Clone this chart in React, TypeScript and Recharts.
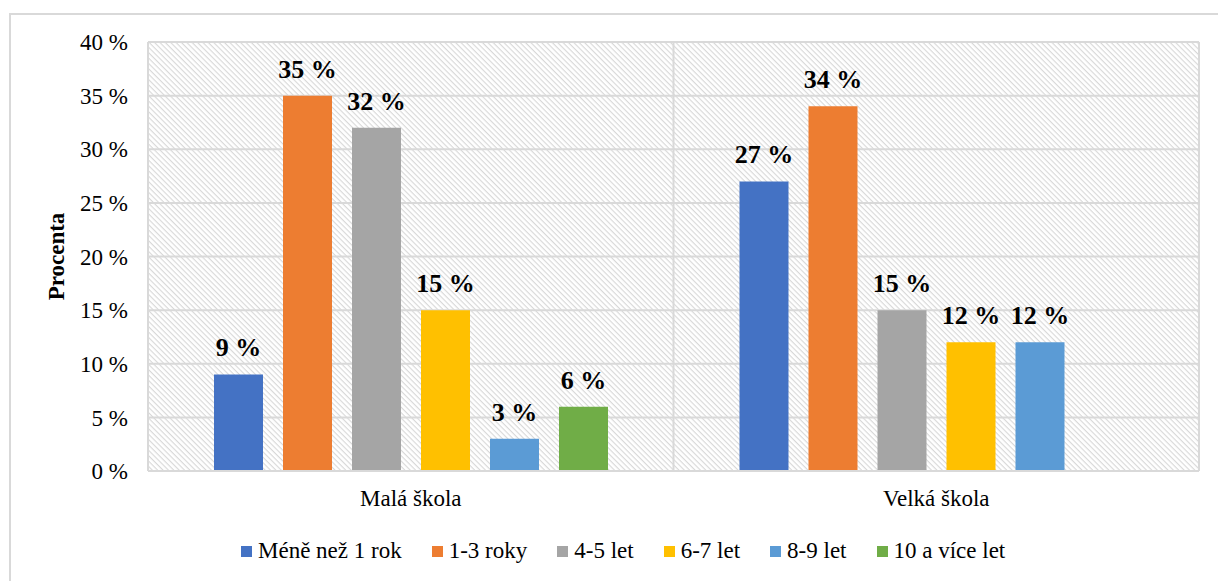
import React from "react"
import { Bar, BarChart, CartesianGrid, LabelList, Legend, ReferenceLine, XAxis, YAxis } from "recharts"

const categories = ["Malá škola", "Velká škola"]
const seriesNames = ["Méně než 1 rok", "1-3 roky", "4-5 let", "6-7 let", "8-9 let", "10 a více let"]
const seriesColors = ["#4472C4", "#ED7D31", "#A5A5A5", "#FFC000", "#5B9BD5", "#70AD47"]
const maleSkola = [9, 35, 32, 15, 3, 6]
const velkaSkola = [27, 34, 15, 12, 12, null]
const yTicks = [0, 5, 10, 15, 20, 25, 30, 35, 40]

const values = [maleSkola, velkaSkola]
const chartData = categories.map((name, ci) => {
  const row: Record<string, any> = { name }
  seriesNames.forEach((s, si) => {
    row[`s${si}`] = values[ci][si]
  })
  return row
})

const FONT = '"Liberation Serif", Tinos, "Times New Roman", "DejaVu Serif", serif'
const GRID = "#d9d9d9"

function LegendContent(props: any) {
  const items = [...(props.payload || [])].sort(
    (a: any, b: any) => seriesNames.indexOf(a.value) - seriesNames.indexOf(b.value)
  )
  return (
    <div style={{ display: "flex", alignItems: "center", height: 30, paddingLeft: 241, fontFamily: FONT, fontSize: 23, color: "#000" }}>
      {items.map((e: any) => (
        <span key={e.value} style={{ display: "flex", alignItems: "center", marginRight: 30, whiteSpace: "nowrap" }}>
          <span style={{ display: "inline-block", width: 11, height: 11, background: e.color, marginRight: 6 }} />
          {e.value}
        </span>
      ))}
    </div>
  )
}

export default function App() {
  return (
    <div style={{ position: "absolute", left: 0, top: 0, width: 1218, height: 581, background: "#fff", overflow: "hidden", fontFamily: FONT }}>
      <div style={{ position: "absolute", left: 9, top: 13, width: 1240, height: 600, border: `2px solid ${GRID}`, boxSizing: "border-box" }} />
      <div style={{ position: "absolute", left: 0, top: 0 }}>
        <BarChart width={1218} height={581} data={chartData} margin={{ top: 42, right: 19, left: 0, bottom: 15 }} barSize={49} barGap={20}>
          <defs>
            <pattern id="hatch" patternUnits="userSpaceOnUse" width="3.8" height="3.8" patternTransform="rotate(45)">
              <line x1="0" y1="0.6" x2="3.8" y2="0.6" stroke="#d6d6d6" strokeWidth="1.1" />
            </pattern>
          </defs>
          <CartesianGrid vertical={false} stroke={GRID} strokeWidth={2} fill="url(#hatch)" />
          <XAxis
            dataKey="name"
            height={65}
            axisLine={{ stroke: GRID, strokeWidth: 2 }}
            tickLine={false}
            tickSize={0}
            tickMargin={19}
            tick={{ fontFamily: FONT, fontSize: 23, fill: "#000" }}
          />
          <YAxis
            width={148}
            domain={[0, 40]}
            ticks={yTicks}
            interval={0}
            axisLine={{ stroke: GRID, strokeWidth: 2 }}
            tickLine={false}
            tickSize={0}
            tickMargin={20}
            tickFormatter={(v: number) => `${v}\u00a0%`}
            tick={{ fontFamily: FONT, fontSize: 23, fill: "#000" }}
            label={{ value: "Procenta", angle: -90, position: "insideLeft", offset: 56, style: { textAnchor: "middle", fontFamily: FONT, fontSize: 23, fontWeight: "bold", fill: "#000" } }}
          />
          <ReferenceLine x="Malá škola" position="end" stroke={GRID} strokeWidth={2} />
          <ReferenceLine x="Velká škola" position="end" stroke={GRID} strokeWidth={2} />
          <Legend verticalAlign="bottom" itemSorter="dataKey" content={LegendContent} wrapperStyle={{ left: 0, top: 536, width: 1218, height: 30 }} />
          {seriesNames.map((s, si) => (
            <Bar key={s} dataKey={`s${si}`} name={s} fill={seriesColors[si]} isAnimationActive={false}>
              <LabelList
                dataKey={`s${si}`}
                position="top"
                offset={18}
                formatter={(v: any) => (v == null ? "" : `${v}\u00a0%`)}
                style={{ fontFamily: FONT, fontSize: 26, fontWeight: "bold", fill: "#000" }}
              />
            </Bar>
          ))}
        </BarChart>
      </div>
    </div>
  )
}
